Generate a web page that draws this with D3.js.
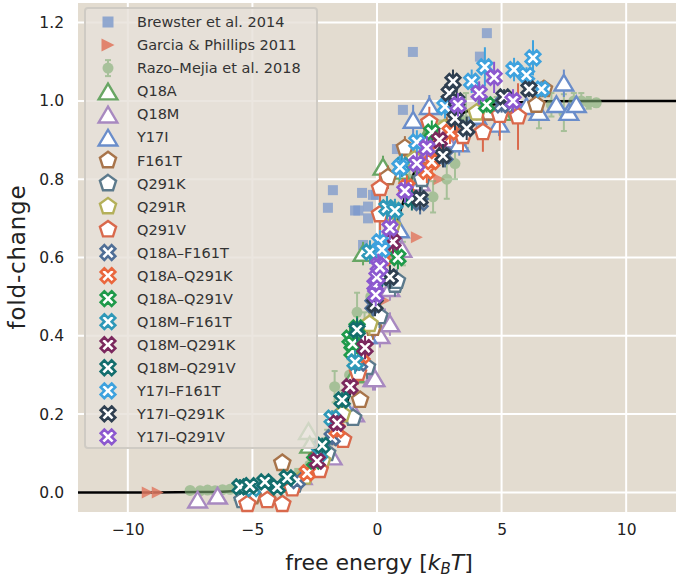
<!DOCTYPE html>
<html><head><meta charset="utf-8">
<script src="https://cdn.jsdelivr.net/npm/d3@7"></script>
<style>body{margin:0;background:#fff} svg{display:block}</style>
</head><body>
<svg id="c" width="679" height="580"></svg>
<script>
// ---------------- data ----------------
const xTicks = [-10, -5, 0, 5, 10];
const yTicks = [0, 0.2, 0.4, 0.6, 0.8, 1.0, 1.2];

const theoryF  = [-12,-9,-7,-6,-5,-4,-3,-2.5,-2,-1.5,-1,-0.5,0,0.5,1,1.5,2,2.5,3,4,5,6,7,9,12];
const theoryFC = [0.000006,0.00012,0.0009,0.0025,0.0067,0.018,0.047,0.076,0.119,0.182,0.269,0.378,0.5,0.622,0.731,0.818,0.881,0.924,0.953,0.982,0.993,0.9975,0.9991,0.9999,1.0];

const brewsterF  = [-1.97,-1.77,-0.88,-0.75,-0.6,-0.56,-0.36,-0.36,-0.16,-0.04,0.8,1.04,1.44,4.13,4.41];
const brewsterFC = [0.727,0.772,0.72,0.72,0.765,0.632,0.73,0.70,0.76,0.76,0.877,0.977,1.125,1.113,1.173];

const garciaF  = [-9.2,-8.8,0.3,1.6,2.5];
const garciaFC = [0.0,0.0,0.49,0.652,0.80];

const razoF   = [-7.5,-7.1,-6.8,-6.5,-6.2,-5.9,-5.6,-5.0,-4.3,-3.7,-3.2,-2.7,-2.3,-2.0,-1.7,-1.4,-1.1,-0.8,-0.5,-0.25,0.0,0.2,0.45,0.7,1.04,1.3,1.7,2.25,2.5,2.8,3.13,3.57,4.1,4.8,5.6,6.5,7.0,7.5,7.9,8.2,8.5,8.8];
const razoFC  = [0.005,0.004,0.006,0.004,0.007,0.008,0.01,0.012,0.02,0.03,0.045,0.07,0.1,0.13,0.27,0.22,0.3,0.46,0.42,0.5,0.52,0.6,0.64,0.7,0.61,0.8,0.82,0.755,0.9,0.8,0.84,0.95,0.96,0.97,0.975,0.965,0.99,0.97,1.0,1.0,0.995,0.995];
const razoErr = [0.005,0.005,0.005,0.005,0.005,0.006,0.006,0.008,0.01,0.012,0.015,0.02,0.025,0.03,0.04,0.04,0.04,0.05,0.04,0.04,0.04,0.05,0.04,0.04,0.03,0.05,0.05,0.04,0.05,0.05,0.04,0.07,0.04,0.04,0.03,0.035,0.03,0.047,0.02,0.02,0.015,0.01];

const q18aF   = [-5.3,-4.5,-3.6,-2.75,-2.7,-1.5,-0.9,-0.56,0.24,0.9,1.9,3.2,5.0];
const q18aFC  = [0.0,0.01,0.02,0.155,0.12,0.2,0.3,0.61,0.83,0.82,0.9,0.95,0.97];
const q18aErr = [0.01,0.01,0.01,0.02,0.02,0.02,0.03,0.03,0.03,0.03,0.03,0.02,0.02];

const q18mF   = [-7.2,-6.4,-4.9,-3.0,-1.8,-0.9,-0.16,-0.08,0.12,0.32,0.52,0.52,1.0,1.73,2.8,4.2];
const q18mFC  = [-0.02,-0.01,0.0,0.04,0.09,0.2,0.29,0.29,0.40,0.44,0.43,0.52,0.62,0.79,0.9,0.97];
const q18mErr = [0.01,0.01,0.01,0.01,0.02,0.02,0.03,0.03,0.03,0.03,0.03,0.03,0.03,0.03,0.03,0.02];

const y17iF   = [-2.6,-1.3,-0.4,0.2,0.9,1.45,2.1,3.3,4.0,4.1,4.9,6.0,6.5,7.2,7.5,7.7,8.0];
const y17iFC  = [0.06,0.22,0.4,0.55,0.67,0.95,0.985,0.89,0.96,0.977,0.94,0.985,0.97,0.99,1.045,0.97,0.99];
const y17iErr = [0.01,0.02,0.02,0.03,0.03,0.04,0.03,0.03,0.03,0.03,0.03,0.02,0.02,0.02,0.035,0.02,0.02];

const f161tF   = [-5.0,-3.8,-2.4,-1.5,-0.68,-0.16,0.44,1.12,2.0,2.8,4.5,6.4,6.7];
const f161tFC  = [-0.01,0.075,0.09,0.14,0.236,0.42,0.805,0.88,0.86,0.93,0.97,0.99,1.03];
const f161tErr = [0.01,0.01,0.02,0.02,0.02,0.03,0.03,0.03,0.03,0.03,0.02,0.02,0.02];

const q291kF   = [-5.4,-3.3,-2.0,-0.96,-0.4,0.1,0.72,0.8,1.8,3.0,5.2];
const q291kFC  = [-0.02,0.02,0.1,0.19,0.32,0.45,0.53,0.54,0.8,0.93,0.99];
const q291kErr = [0.01,0.01,0.02,0.02,0.03,0.03,0.03,0.03,0.03,0.02,0.02];

const q291rF   = [-3.6,-2.9,-2.2,-1.4,-0.3,0.6,1.5,2.7,4.0];
const q291rFC  = [0.02,0.04,0.08,0.2,0.43,0.68,0.85,0.93,0.97];
const q291rErr = [0.01,0.01,0.02,0.02,0.03,0.03,0.03,0.02,0.02];

const q291vF   = [-5.2,-4.4,-3.8,-3.4,-2.3,-1.36,-0.76,0.12,0.12,2.1,3.45,4.25,4.93,5.66];
const q291vFC  = [-0.03,-0.02,-0.03,0.01,0.057,0.134,0.305,0.777,0.71,0.945,0.91,0.92,0.964,0.96];
const q291vErr = [0.01,0.01,0.01,0.01,0.015,0.02,0.03,0.04,0.04,0.04,0.04,0.05,0.065,0.085];

const q18aF161tF   = [-3.2,-1.8,-0.7,-0.16,0.52,1.73,2.73,3.6,5.0];
const q18aF161tFC  = [0.03,0.14,0.33,0.48,0.55,0.74,0.86,0.93,0.99];
const q18aF161tErr = [0.01,0.02,0.02,0.03,0.03,0.03,0.03,0.02,0.02];

const q18aQ291kF   = [-2.8,-1.6,-0.6,0.3,1.2,2.0,2.2,2.45,2.93];
const q18aQ291kFC  = [0.05,0.16,0.35,0.6,0.78,0.82,0.845,0.88,0.92];
const q18aQ291kErr = [0.01,0.02,0.02,0.03,0.03,0.03,0.03,0.03,0.03];

const q18aQ291vF   = [-2.5,-1.08,-1.0,-0.98,-0.8,0.84,2.2,4.4];
const q18aQ291vFC  = [0.08,0.394,0.36,0.38,0.42,0.60,0.92,0.99];
const q18aQ291vErr = [0.01,0.03,0.03,0.03,0.03,0.03,0.03,0.02];

const q18mF161tF   = [-5.0,-2.3,-1.8,-0.88,-0.28,0.4,0.72,1.0];
const q18mF161tFC  = [0.01,0.10,0.19,0.333,0.614,0.727,0.72,0.835];
const q18mF161tErr = [0.01,0.02,0.02,0.03,0.03,0.03,0.03,0.03];

const q18mQ291kF   = [-2.4,-1.6,-1.08,-0.48,0.64,2.5];
const q18mQ291kFC  = [0.08,0.177,0.27,0.37,0.64,0.9];
const q18mQ291kErr = [0.01,0.02,0.02,0.03,0.03,0.03];

const q18mQ291vF   = [-5.5,-5.1,-4.5,-4.0,-3.6,-2.2,-1.4,-0.8,0.2,1.4];
const q18mQ291vFC  = [0.014,0.017,0.027,0.014,0.037,0.12,0.236,0.415,0.55,0.75];
const q18mQ291vErr = [0.02,0.01,0.01,0.01,0.01,0.02,0.02,0.03,0.03,0.03];

const y17iF161tF   = [0.12,0.2,0.92,1.6,2.73,3.8,4.33,5.5,6.0,6.26,6.6];
const y17iF161tFC  = [0.64,0.62,0.83,0.895,0.985,1.05,1.087,1.08,1.066,1.11,1.03];
const y17iF161tErr = [0.03,0.03,0.03,0.03,0.03,0.03,0.05,0.03,0.02,0.045,0.02];

const y17iQ291kF   = [-0.08,0.52,1.73,2.65,2.9,3.05,3.13,3.2,3.6,5.1,6.1];
const y17iQ291kFC  = [0.48,0.55,0.75,0.86,1.02,1.05,0.955,1.0,0.93,1.01,1.03];
const y17iQ291kErr = [0.03,0.03,0.03,0.03,0.03,0.03,0.03,0.03,0.03,0.02,0.02];

const y17iQ291vF   = [-0.08,-0.05,0.0,0.05,0.12,0.52,1.12,1.6,2.0,3.25,4.1,4.7,5.46];
const y17iQ291vFC  = [0.53,0.505,0.55,0.58,0.575,0.675,0.77,0.84,0.88,0.99,1.02,1.06,1.0];
const y17iQ291vErr = [0.03,0.03,0.03,0.03,0.03,0.03,0.03,0.03,0.03,0.03,0.03,0.04,0.03];

// ---------------- series table ----------------
const mutants = [
  {name:'Q18A', m:'tri', c:'#68a664', F:q18aF, fc:q18aFC, e:q18aErr},
  {name:'Q18M', m:'tri', c:'#a889c0', F:q18mF, fc:q18mFC, e:q18mErr},
  {name:'Y17I', m:'tri', c:'#6a8dca', F:y17iF, fc:y17iFC, e:y17iErr},
  {name:'F161T', m:'pent', c:'#a8744a', F:f161tF, fc:f161tFC, e:f161tErr},
  {name:'Q291K', m:'pent', c:'#5c7a8c', F:q291kF, fc:q291kFC, e:q291kErr},
  {name:'Q291R', m:'pent', c:'#b4b05a', F:q291rF, fc:q291rFC, e:q291rErr},
  {name:'Q291V', m:'pent', c:'#d9694c', F:q291vF, fc:q291vFC, e:q291vErr},
  {name:'Q18A\u2013F161T', m:'x', c:'#4f6e96', F:q18aF161tF, fc:q18aF161tFC, e:q18aF161tErr},
  {name:'Q18A\u2013Q291K', m:'x', c:'#ea673d', F:q18aQ291kF, fc:q18aQ291kFC, e:q18aQ291kErr},
  {name:'Q18A\u2013Q291V', m:'x', c:'#1f9a4a', F:q18aQ291vF, fc:q18aQ291vFC, e:q18aQ291vErr},
  {name:'Q18M\u2013F161T', m:'x', c:'#2e98b8', F:q18mF161tF, fc:q18mF161tFC, e:q18mF161tErr},
  {name:'Q18M\u2013Q291K', m:'x', c:'#7b285e', F:q18mQ291kF, fc:q18mQ291kFC, e:q18mQ291kErr},
  {name:'Q18M\u2013Q291V', m:'x', c:'#136e6d', F:q18mQ291vF, fc:q18mQ291vFC, e:q18mQ291vErr},
  {name:'Y17I\u2013F161T', m:'x', c:'#3ea2de', F:y17iF161tF, fc:y17iF161tFC, e:y17iF161tErr},
  {name:'Y17I\u2013Q291K', m:'x', c:'#2f3f50', F:y17iQ291kF, fc:y17iQ291kFC, e:y17iQ291kErr},
  {name:'Y17I\u2013Q291V', m:'x', c:'#8c58cf', F:y17iQ291vF, fc:y17iQ291vFC, e:y17iQ291vErr},
];

// ---------------- drawing ----------------
const svg = d3.select('#c');
const x = d3.scaleLinear().domain([-12, 12]).range([78, 676]);
const y = d3.scaleLinear().domain([-0.05, 1.25]).range([512, 3]);
const FONT = "'DejaVu Sans', sans-serif";

svg.append('rect').attr('x',0).attr('y',0).attr('width',679).attr('height',580).attr('fill','#ffffff');
svg.append('rect').attr('x',x.range()[0]).attr('y',y.range()[1]).attr('width',x.range()[1]-x.range()[0]).attr('height',y.range()[0]-y.range()[1]).attr('fill','#e3dcd0');

const grid = svg.append('g');
grid.selectAll('.gx').data(xTicks).join('line').attr('x1',d=>x(d)).attr('x2',d=>x(d)).attr('y1',y.range()[0]).attr('y2',y.range()[1]).attr('stroke','#ffffff').attr('stroke-width',2);
grid.selectAll('.gy').data(yTicks).join('line').attr('y1',d=>y(d)).attr('y2',d=>y(d)).attr('x1',x.range()[0]).attr('x2',x.range()[1]).attr('stroke','#ffffff').attr('stroke-width',2);

// axes (no tick marks, labels only)
const xAxis = d3.axisBottom(x).tickValues(xTicks).tickSize(0).tickPadding(12).tickFormat(d => d3.format('d')(d).replace('-', '\u2212'));
const yAxis = d3.axisLeft(y).tickValues(yTicks).tickSize(0).tickPadding(14).tickFormat(d3.format('.1f'));
const gx = svg.append('g').attr('transform',`translate(0,${y.range()[0]})`).call(xAxis);
const gy = svg.append('g').attr('transform',`translate(${x.range()[0]},0)`).call(yAxis);
[gx, gy].forEach(g => { g.select('.domain').remove(); g.selectAll('text').attr('font-family',FONT).attr('font-size',15.5).attr('fill','#222'); });

// theory curve
const line = d3.line().x((d,i)=>x(theoryF[i])).y((d,i)=>y(theoryFC[i])).curve(d3.curveMonotoneX);
svg.append('path').attr('d', line(theoryF)).attr('fill','none').attr('stroke','#000').attr('stroke-width',2.5);

// marker shapes
function triPath(cx, cy, r) {
  return `M${cx},${cy - r}L${cx + r * 1.1},${cy + r * 0.85}L${cx - r * 1.1},${cy + r * 0.85}Z`;
}
function pentPath(cx, cy, r) {
  let p = '';
  for (let k = 0; k < 5; k++) {
    const a = -Math.PI / 2 + k * 2 * Math.PI / 5;
    p += (k ? 'L' : 'M') + (cx + r * Math.cos(a)) + ',' + (cy + r * Math.sin(a));
  }
  return p + 'Z';
}
const plusPts = [[-1,-3],[1,-3],[1,-1],[3,-1],[3,1],[1,1],[1,3],[-1,3],[-1,1],[-3,1],[-3,-1],[-1,-1]];
function xPath(cx, cy, s) {
  const c = Math.SQRT1_2;
  return 'M' + plusPts.map(([a,b]) => {
    const u = a * s / 6, v = b * s / 6;
    return (cx + (u - v) * c) + ',' + (cy + (u + v) * c);
  }).join('L') + 'Z';
}
function rtriPath(cx, cy, r) {
  return `M${cx + r},${cy}L${cx - r},${cy - r}L${cx - r},${cy + r}Z`;
}
function markerPath(m, cx, cy) {
  if (m === 'tri') return triPath(cx, cy, 8.5);
  if (m === 'pent') return pentPath(cx, cy, 8.5);
  return xPath(cx, cy, 15.5);
}

// Brewster squares
svg.append('g').selectAll('rect').data(brewsterF).join('rect')
  .attr('x',(d)=>x(d)-5).attr('y',(d,i)=>y(brewsterFC[i])-5).attr('width',10).attr('height',10)
  .attr('fill','#7b98cc').attr('opacity',0.75);

// Garcia right triangles
svg.append('g').selectAll('path').data(garciaF).join('path')
  .attr('d',(d,i)=>rtriPath(x(d), y(garciaFC[i]), 6))
  .attr('fill','#e07a63').attr('opacity',0.85);

// Razo-Mejia circles with error bars
const gr = svg.append('g').attr('opacity',0.6);
gr.selectAll('line.eb').data(razoF).join('line')
  .attr('x1',d=>x(d)).attr('x2',d=>x(d))
  .attr('y1',(d,i)=>y(razoFC[i]-razoErr[i])).attr('y2',(d,i)=>y(razoFC[i]+razoErr[i]))
  .attr('stroke','#7fae74').attr('stroke-width',2);
gr.selectAll('line.c1').data(razoF).join('line')
  .attr('x1',d=>x(d)-3).attr('x2',d=>x(d)+3)
  .attr('y1',(d,i)=>y(razoFC[i]+razoErr[i])).attr('y2',(d,i)=>y(razoFC[i]+razoErr[i]))
  .attr('stroke','#7fae74').attr('stroke-width',2);
gr.selectAll('line.c2').data(razoF).join('line')
  .attr('x1',d=>x(d)-3).attr('x2',d=>x(d)+3)
  .attr('y1',(d,i)=>y(razoFC[i]-razoErr[i])).attr('y2',(d,i)=>y(razoFC[i]-razoErr[i]))
  .attr('stroke','#7fae74').attr('stroke-width',2);
gr.selectAll('circle').data(razoF).join('circle')
  .attr('cx',d=>x(d)).attr('cy',(d,i)=>y(razoFC[i])).attr('r',5.5)
  .attr('fill','#7fae74');

// mutants
mutants.forEach(s => {
  const g = svg.append('g');
  g.selectAll('line').data(s.F).join('line')
    .attr('x1',d=>x(d)).attr('x2',d=>x(d))
    .attr('y1',(d,i)=>y(s.fc[i]-s.e[i])).attr('y2',(d,i)=>y(s.fc[i]+s.e[i]))
    .attr('stroke',s.c).attr('stroke-width',2);
  g.selectAll('path').data(s.F).join('path')
    .attr('d',(d,i)=>markerPath(s.m, x(d), y(s.fc[i])))
    .attr('fill','#ffffff').attr('stroke',s.c).attr('stroke-width', s.m==='x'?2.6:2.4).attr('stroke-linejoin','miter');
});

// legend
const lg = svg.append('g');
lg.append('rect').attr('x',85).attr('y',8).attr('width',232).attr('height',440).attr('rx',3)
  .attr('fill','#e6e1d9').attr('fill-opacity',0.82).attr('stroke','#cfcbc4').attr('stroke-width',2);
const entries = [{name:'Brewster et al. 2014', m:'sq'},{name:'Garcia & Phillips 2011', m:'rtri'},{name:'Razo\u2013Mejia et al. 2018', m:'circ'}].concat(mutants);
const rowY = i => 22 + i * 23.05;
const mx = 108, tx = 137;
entries.forEach((s, i) => {
  const cy = rowY(i);
  if (s.m === 'sq') {
    lg.append('rect').attr('x',mx-5.5).attr('y',cy-5.5).attr('width',11).attr('height',11).attr('fill','#7b98cc').attr('opacity',0.8);
  } else if (s.m === 'rtri') {
    lg.append('path').attr('d',rtriPath(mx, cy, 6.5)).attr('fill','#e07a63').attr('opacity',0.9);
  } else if (s.m === 'circ') {
    const gg = lg.append('g').attr('opacity',0.6);
    gg.append('line').attr('x1',mx).attr('x2',mx).attr('y1',cy-8).attr('y2',cy+8).attr('stroke','#7fae74').attr('stroke-width',2);
    gg.append('line').attr('x1',mx-3).attr('x2',mx+3).attr('y1',cy-8).attr('y2',cy-8).attr('stroke','#7fae74').attr('stroke-width',2);
    gg.append('line').attr('x1',mx-3).attr('x2',mx+3).attr('y1',cy+8).attr('y2',cy+8).attr('stroke','#7fae74').attr('stroke-width',2);
    gg.append('circle').attr('cx',mx).attr('cy',cy).attr('r',5.5).attr('fill','#7fae74');
  } else {
    lg.append('path').attr('d',markerPath(s.m, mx, cy+ (s.m==='tri'?1:0))).attr('fill','#ffffff').attr('stroke',s.c).attr('stroke-width', s.m==='x'?2.6:2.4);
  }
  lg.append('text').attr('x',tx).attr('y',cy).attr('dy','0.36em').attr('font-family',FONT).attr('font-size',14.5).attr('fill','#333').text(s.name);
});

// axis titles
const xl = svg.append('text').attr('x',379).attr('y',570).attr('text-anchor','middle').attr('font-family',FONT).attr('font-size',22).attr('fill','#222');
xl.append('tspan').text('free energy [');
xl.append('tspan').attr('font-style','italic').text('k');
xl.append('tspan').attr('font-style','italic').attr('font-size',15).attr('dy',4).text('B');
xl.append('tspan').attr('font-style','italic').attr('dy',-4).text('T');
xl.append('tspan').text(']');
svg.append('text').attr('transform','translate(25,257) rotate(-90)').attr('text-anchor','middle').attr('font-family',FONT).attr('font-size',23).attr('letter-spacing',0.8).attr('fill','#222').text('fold-change');
</script>
</body></html>
